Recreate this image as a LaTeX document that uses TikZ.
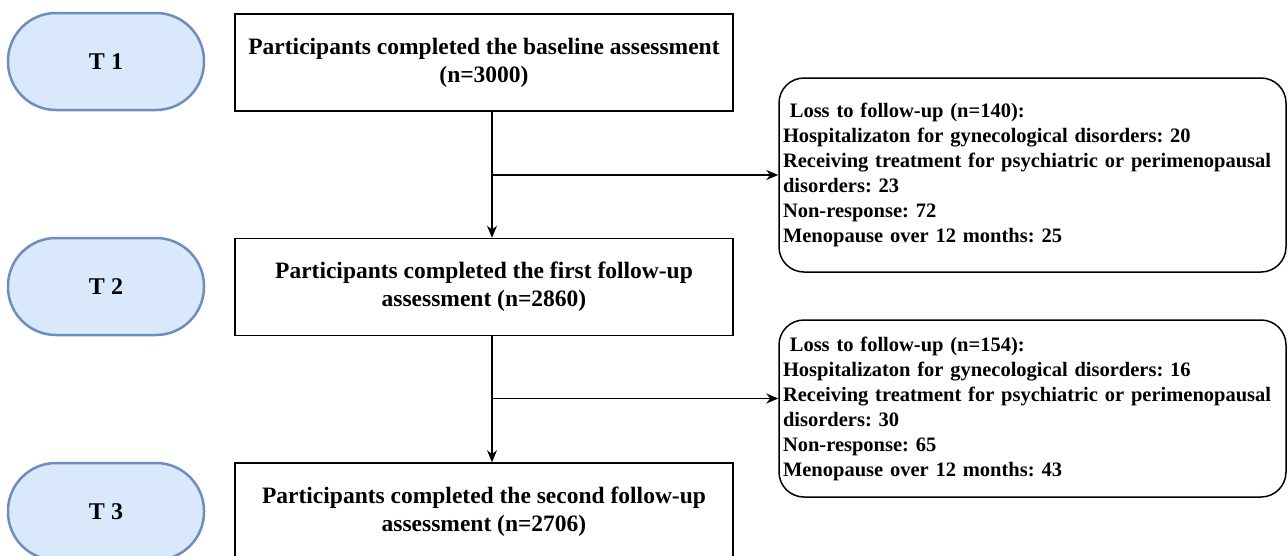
\documentclass[tikz,border=0pt]{standalone}
\usepackage{fontspec}
\setmainfont{Liberation Serif}
\usetikzlibrary{arrows.meta}
\definecolor{stagefill}{HTML}{DAE8FC}
\definecolor{stageline}{HTML}{6C8EBF}
\frenchspacing

\begin{document}
\begin{tikzpicture}[x=1pt,y=-1pt,
  stage/.style={draw=stageline, fill=stagefill, line width=2.5pt, rounded corners=48pt,
    minimum width=196pt, minimum height=97pt, font=\fontsize{24}{28}\selectfont\bfseries},
  mainbox/.style={draw, line width=1.5pt, minimum width=498pt, minimum height=97pt,
    align=center, font=\fontsize{23.5}{28}\selectfont\bfseries},
  lossbox/.style={draw, line width=1.5pt, rounded corners=25pt, inner xsep=4pt,
    text width=499pt, align=left, font=\fontsize{20.5}{25}\selectfont\bfseries},
  arr/.style={-{Stealth[length=12pt,width=10pt]}, line width=1.5pt}]
 \clip (0,0) rectangle (1288,555);

    % Draw the time points
    \node[stage] (t1) at (106,61.5) {T 1};
    \node[stage] (t2) at (106,286.5) {T 2};
    \node[stage] (t3) at (106,511.5) {T 3};

    % Draw the assessment boxes
    \node[mainbox] (base) at (484,62.5) {Participants completed the baseline assessment\\(n=3000)};
    \node[mainbox] (first) at (484,287) {Participants completed the first follow-up\\assessment (n=2860)};
    \node[mainbox] (second) at (484,511.5) {Participants completed the second follow-up\\assessment (n=2706)};

    % Draw the loss boxes
    \node[lossbox, minimum height=194pt] (lossa) at (1032.5,175) {\ Loss to follow-up (n=140):\\
      Hospitalizaton for gynecological disorders: 20\\
      Receiving treatment for psychiatric or perimenopausal\\
      disorders: 23\\
      Non-response: 72\\
      Menopause over 12 months: 25};
    \node[lossbox, minimum height=177pt] (lossb) at (1032.5,408.5) {\ Loss to follow-up (n=154):\\
      Hospitalizaton for gynecological disorders: 16\\
      Receiving treatment for psychiatric or perimenopausal\\
      disorders: 30\\
      Non-response: 65\\
      Menopause over 12 months: 43};

    % Draw the arrows
    \coordinate (sa) at ([xshift=8pt]base.south);
    \coordinate (sb) at ([xshift=8pt]first.south);
    \draw[arr] (sa) -- (sa |- first.north);
    \draw[arr] (sb) -- (sb |- second.north);
    \draw[arr] (sa |- lossa.west) -- (lossa.west);
    \draw[arr] ([yshift=10pt]sb |- lossb.west) -- ([yshift=10pt]lossb.west);

\end{tikzpicture}
\end{document}
